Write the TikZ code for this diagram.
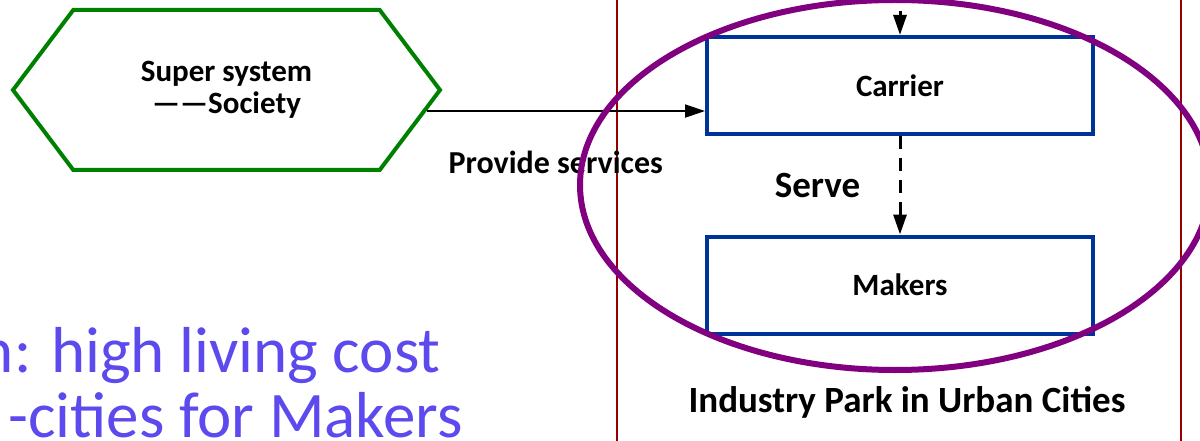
\documentclass[tikz,border=0pt]{standalone}
\usepackage{fontspec}
\setmainfont{Carlito}
\usepackage{xcolor}
\usetikzlibrary{arrows, arrows.meta, positioning, shapes.symbols, calc}
\definecolor{boxblue}{RGB}{0,51,153}
\definecolor{hexgreen}{RGB}{0,128,0}
\definecolor{ringpurple}{RGB}{128,0,128}
\definecolor{parkred}{RGB}{150,0,0}
\definecolor{notepurple}{RGB}{92,74,238}

\begin{document}
\begin{tikzpicture}[x=1pt, y=-1pt, auto, node distance=2cm, >={Triangle[length=20pt,width=13pt]}]
 % We define the styles for the blocks and the arrows
 \tikzset{
block/.style = {draw=boxblue, rectangle, line width=4pt, minimum height=97pt, minimum width=386pt, font=\fontsize{31}{36}\selectfont\bfseries},
hexa/.style = {draw=hexgreen, signal, signal to=east and west, signal pointer angle=106, line width=4pt, minimum width=427pt, minimum height=160pt, inner sep=0pt, align=center, font=\fontsize{31}{32}\selectfont\bfseries},
line/.style = {draw, ->, line width=2pt},
dashline/.style = {draw, ->, line width=3pt, dash pattern=on 13pt off 9pt},
tag/.style = {black, font=\fontsize{32}{36}\selectfont\bfseries},
note/.style = {notepurple, anchor=base east, inner sep=0pt, font=\fontsize{65}{68}\selectfont},
}
 \useasboundingbox (0,0) rectangle (1200,441);
 \clip (0,0) rectangle (1200,441);

 % Industry park frame
 \draw [parkred, line width=2pt] (617,-20) rectangle (1181,460);

 % Super system block
 \node [hexa] (society) at (226.5,90) {Super system\\——Society};

 % Carrier and makers blocks
 \node [block] (carrier) at (900,85.5) {Carrier};
 \node [block, below of=carrier, node distance=199.5pt] (makers) {Makers};
 \node [tag, below of=makers, node distance=117pt, xshift=7pt, font=\fontsize{37}{40}\selectfont\bfseries] (parklabel) {Industry Park in Urban Cities};

 % Arrows and labels
 \coordinate (feed) at ([yshift=46pt]carrier.north);
 \draw [dashline] (feed) -- (carrier.north);
 \draw [line] (society.-6) -- (society.-6 -| carrier.west) node[midway, below=36pt, xshift=-10pt, tag] {Provide services};
 \draw [dashline] (carrier.south) -- (makers.north) node[midway, left=35pt, tag, font=\fontsize{37}{40}\selectfont\bfseries] {Serve};

 % Focus ring
 \draw [ringpurple, line width=6pt] (895,185) ellipse [x radius=315, y radius=185];

 % Note text
 \node [note] (note1) at (441,372) {n: high living cost};
 \node [note] (note2) at (463,437) {-cities for Makers};
\end{tikzpicture}
\end{document}
